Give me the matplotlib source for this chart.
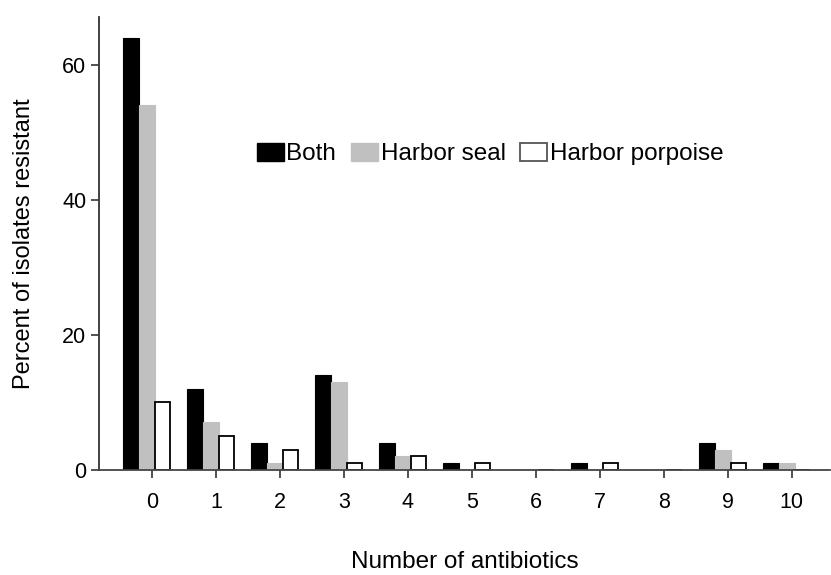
import numpy as np
import matplotlib
matplotlib.use("Agg")
import matplotlib.pyplot as plt
import matplotlib.patches as mpatches

plt.rcParams['font.family'] = ['Liberation Sans', 'DejaVu Sans']

n_antibiotics = [0, 1, 2, 3, 4, 5, 6, 7, 8, 9, 10]
both = [64, 12, 4, 14, 4, 1, 0, 1, 0, 4, 1]
harbor_seal = [54, 7, 1, 13, 2, 0, 0, 0, 0, 3, 1]
harbor_porpoise = [10, 5, 3, 1, 2, 1, 0, 1, 0, 1, 0]

fig = plt.figure(figsize=(8.31, 5.75), dpi=100)
ax = fig.add_axes([0.119, 0.183, 0.88, 0.787])

x = np.array(n_antibiotics)
w = 0.245
off = -0.08
ax.bar(x - w + off, both, w, color='black', edgecolor='black', linewidth=0.8)
ax.bar(x + off, harbor_seal, w, color='#c0c0c0', edgecolor='#c0c0c0', linewidth=0.8)
ax.bar(x + w + off, harbor_porpoise, w, color='white', edgecolor='black', linewidth=1.3)

ax.set_xlim(-0.83, 10.6)
ax.set_ylim(0, 67)
ax.set_xticks(n_antibiotics)
ax.set_yticks([0, 20, 40, 60])
ax.spines['top'].set_visible(False)
ax.spines['right'].set_visible(False)
ax.spines['left'].set_linewidth(1.3)
ax.spines['bottom'].set_linewidth(1.3)
ax.spines['left'].set_color('#333333')
ax.spines['bottom'].set_color('#444444')
ax.tick_params(axis='both', direction='out', length=6, width=1.3, labelsize=15.5,
               color='#444444')
ax.tick_params(axis='x', pad=10)
ax.tick_params(axis='y', pad=3)

ax.set_xlabel('Number of antibiotics', fontsize=17.5)
ax.xaxis.set_label_coords(0.5, -0.18)
ax.set_ylabel('Percent of isolates resistant', fontsize=17)
ax.yaxis.set_label_coords(-0.087, 0.5)

handles = [
    mpatches.Patch(facecolor='black', edgecolor='black', label='Both'),
    mpatches.Patch(facecolor='#c0c0c0', edgecolor='#c0c0c0', label='Harbor seal'),
    mpatches.Patch(facecolor='white', edgecolor='#555555', linewidth=1.3,
                   label='Harbor porpoise'),
]
ax.legend(handles=handles, loc='center', bbox_to_anchor=(0.535, 0.698), ncol=3,
          frameon=False, fontsize=17.5, handlelength=1.1, handleheight=0.8,
          handletextpad=0.12, columnspacing=0.6, borderpad=0)

fig.savefig('out.png', dpi=100)
